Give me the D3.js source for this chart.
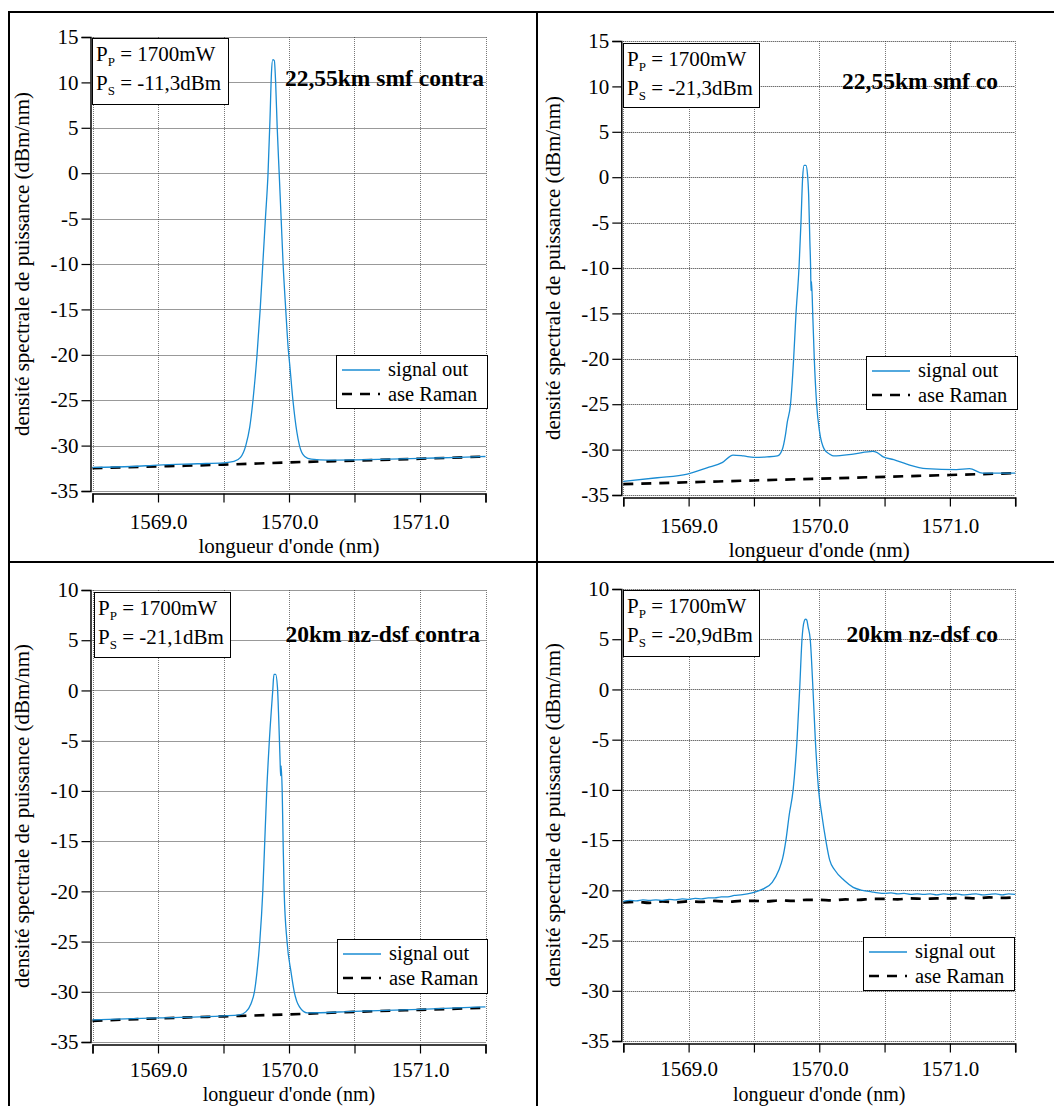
<!DOCTYPE html>
<html>
<head>
<meta charset="utf-8">
<script src="https://cdn.jsdelivr.net/npm/d3@7"></script>
<style>
  body { margin: 0; background: #fff; }
  svg { display: block; font-family: "Liberation Serif", "DejaVu Serif", serif; }
</style>
</head>
<body>
<script>
// ---------------- DATA ----------------
const wlGrid = [1568.5, 1569.0, 1569.5, 1570.0, 1570.5, 1571.0, 1571.5];
const wlLabels = [1569.0, 1570.0, 1571.0];
const yTicksTop = [15, 10, 5, 0, -5, -10, -15, -20, -25, -30, -35];
const yTicksBottom = [10, 5, 0, -5, -10, -15, -20, -25, -30, -35];
const panelTitles = ["22,55km smf contra", "22,55km smf co", "20km nz-dsf contra", "20km nz-dsf co"];
const pumpPower = ["1700mW", "1700mW", "1700mW", "1700mW"];
const signalPower = ["-11,3dBm", "-21,3dBm", "-21,1dBm", "-20,9dBm"];
const seriesNames = ["signal out", "ase Raman"];
const xAxisTitle = "longueur d'onde (nm)";
const yAxisTitle = "densité spectrale de puissance (dBm/nm)";

// [wavelength nm, dBm/nm]
const signal1 = [[1568.5,-32.4],[1568.8,-32.3],[1569.0,-32.15],[1569.3,-32.0],[1569.5,-31.9],[1569.58,-31.75],
  [1569.63,-31.3],[1569.67,-30.0],[1569.70,-28.0],[1569.725,-25.0],[1569.756,-20.0],[1569.78,-15],[1569.80,-10.0],
  [1569.82,-5],[1569.84,0.0],[1569.855,6],[1569.866,11],[1569.876,12.5],[1569.888,12.4],[1569.898,10],[1569.91,5],
  [1569.925,0],[1569.94,-5],[1569.955,-10.0],[1569.975,-15],[1569.995,-19.5],[1570.005,-21],[1570.03,-25.0],
  [1570.06,-28.5],[1570.08,-30.0],[1570.12,-31.2],[1570.17,-31.5],[1570.3,-31.6],[1570.6,-31.55],[1571.0,-31.4],
  [1571.3,-31.3],[1571.5,-31.2]];
const ase1 = [[1568.5,-32.5],[1569.0,-32.3],[1569.5,-32.1],[1570.0,-31.85],[1570.5,-31.65],[1571.0,-31.45],[1571.5,-31.2]];

const signal2 = [[1568.5,-33.5],[1568.76,-33.1],[1568.99,-32.7],[1569.14,-32.0],[1569.26,-31.4],[1569.34,-30.6],
  [1569.42,-30.7],[1569.5,-30.85],[1569.6,-30.8],[1569.68,-30.7],[1569.717,-30.0],[1569.74,-28.5],[1569.755,-27],
  [1569.78,-25],[1569.804,-20],[1569.822,-15],[1569.845,-10],[1569.86,-5],[1569.873,0],[1569.884,1.3],[1569.898,1.3],
  [1569.91,0.3],[1569.919,-2],[1569.928,-7],[1569.934,-10],[1569.937,-12.5],[1569.941,-11.5],[1569.95,-15],
  [1569.962,-20],[1569.98,-25],[1570.002,-28],[1570.04,-30],[1570.08,-30.5],[1570.11,-30.7],[1570.26,-30.5],
  [1570.41,-30.2],[1570.44,-30.3],[1570.49,-30.8],[1570.57,-31.1],[1570.67,-31.6],[1570.82,-32.1],[1571.05,-32.2],
  [1571.15,-32.1],[1571.25,-32.6],[1571.5,-32.6]];
const ase2 = [[1568.5,-33.8],[1569.0,-33.6],[1569.5,-33.4],[1570.0,-33.2],[1570.5,-33.0],[1571.0,-32.8],[1571.5,-32.6]];

const signal3 = [[1568.5,-32.8],[1569.0,-32.6],[1569.5,-32.4],[1569.62,-32.3],[1569.67,-32.0],[1569.71,-31.2],
  [1569.736,-30],[1569.756,-28],[1569.777,-25],[1569.80,-20],[1569.815,-15],[1569.83,-10],[1569.85,-5],
  [1569.876,0],[1569.885,1.6],[1569.898,1.6],[1569.912,0.3],[1569.922,-3],[1569.932,-7],[1569.936,-8.5],
  [1569.94,-7.5],[1569.948,-10],[1569.955,-15],[1569.963,-20],[1569.985,-25],[1570.015,-28],[1570.04,-30],
  [1570.08,-31.5],[1570.14,-32.1],[1570.5,-31.95],[1571.0,-31.75],[1571.5,-31.5]];
const ase3 = [[1568.5,-32.9],[1569.0,-32.65],[1569.5,-32.45],[1570.0,-32.25],[1570.5,-32.0],[1571.0,-31.8],[1571.5,-31.6]];

const signal4 = [[1568.5,-21.1],[1568.55,-21.0],[1568.6,-21.05],[1568.65,-20.95],[1568.7,-21.0],[1568.75,-20.95],
  [1568.8,-21.0],[1568.85,-20.9],[1568.9,-20.95],[1568.95,-20.85],[1569.0,-20.9],[1569.05,-20.8],[1569.1,-20.85],
  [1569.15,-20.75],[1569.2,-20.75],[1569.25,-20.65],[1569.3,-20.65],[1569.35,-20.5],[1569.4,-20.45],[1569.45,-20.35],
  [1569.5,-20.2],[1569.58,-19.8],[1569.64,-19.2],[1569.69,-18.0],[1569.72,-16.8],[1569.745,-15],[1569.77,-12.5],
  [1569.80,-10],[1569.83,-5],[1569.85,0],[1569.868,5],[1569.885,6.8],[1569.895,7.0],[1569.905,6.9],[1569.915,6.2],
  [1569.931,5],[1569.952,0],[1569.97,-5],[1569.995,-10],[1570.02,-12.5],[1570.05,-15],[1570.08,-17.0],
  [1570.12,-18.0],[1570.19,-19.0],[1570.26,-19.7],[1570.33,-20.0],[1570.4,-20.15],[1570.45,-20.25],[1570.5,-20.3],
  [1570.55,-20.25],[1570.6,-20.35],[1570.65,-20.3],[1570.7,-20.4],[1570.75,-20.35],[1570.8,-20.4],[1570.85,-20.35],
  [1570.9,-20.45],[1570.95,-20.35],[1571.0,-20.4],[1571.05,-20.35],[1571.1,-20.45],[1571.15,-20.4],[1571.2,-20.35],
  [1571.25,-20.45],[1571.3,-20.4],[1571.35,-20.35],[1571.4,-20.45],[1571.45,-20.35],[1571.5,-20.4]];
const ase4 = [[1568.5,-21.2],[1568.6,-21.15],[1568.7,-21.25],[1568.8,-21.1],[1568.9,-21.2],[1569.0,-21.1],
  [1569.1,-21.15],[1569.2,-21.05],[1569.3,-21.15],[1569.4,-21.05],[1569.5,-21.05],[1569.6,-21.1],[1569.7,-21.0],
  [1569.8,-21.05],[1569.9,-20.95],[1570.0,-20.95],[1570.1,-21.0],[1570.2,-20.9],[1570.3,-20.95],[1570.4,-20.85],
  [1570.5,-20.85],[1570.6,-20.9],[1570.7,-20.8],[1570.8,-20.85],[1570.9,-20.8],[1571.0,-20.8],[1571.1,-20.75],
  [1571.2,-20.8],[1571.3,-20.7],[1571.4,-20.75],[1571.5,-20.7]];

// ---------------- LAYOUT ----------------
const W = 1054, H = 1106;
const BLUE = "#1a8cd3";
const FONT = 21;
const SERIF = "Liberation Serif, DejaVu Serif, serif";

const panels = [
  { sig: signal1, ase: ase1, yTicks: yTicksTop, yDom: [-35, 15], xr: [92.5, 485.5], yr: [491, 37],
    box: [92, 38, 136, 66], title: [484, 86], leg: [336, 355, 151, 53], yTitleX: 29, pad: 12, xtY: 553, xtF: 21 },
  { sig: signal2, ase: ase2, yTicks: yTicksTop, yDom: [-35, 15], xr: [623.3, 1015.2], yr: [495, 41],
    box: [623, 43, 136, 64], title: [998, 89], leg: [866, 356, 151, 53], yTitleX: 560, pad: 12, xtY: 557, xtF: 21 },
  { sig: signal3, ase: ase3, yTicks: yTicksBottom, yDom: [-35, 10], xr: [92.5, 485.5], yr: [1042, 590],
    box: [94, 592, 136, 65], title: [480, 642], leg: [337, 939, 150, 54], yTitleX: 29, pad: 9, xtY: 1101, xtF: 20 },
  { sig: signal4, ase: ase4, yTicks: yTicksBottom, yDom: [-35, 10], xr: [623.3, 1015.2], yr: [1041, 589],
    box: [623, 590, 136, 66], title: [998, 642], leg: [863, 937, 151, 53], yTitleX: 560, pad: 9, xtY: 1101, xtF: 20 }
];

const svg = d3.select("body").append("svg").attr("width", W).attr("height", H);
svg.append("rect").attr("width", W).attr("height", H).attr("fill", "#fff");

// outer frame
const frame = svg.append("g").attr("stroke", "#000").attr("stroke-width", 2);
frame.append("line").attr("x1", 8).attr("x2", W).attr("y1", 12).attr("y2", 12);
frame.append("line").attr("x1", 8).attr("x2", W).attr("y1", 562).attr("y2", 562);
frame.append("line").attr("x1", 9).attr("x2", 9).attr("y1", 12).attr("y2", H);
frame.append("line").attr("x1", 537).attr("x2", 537).attr("y1", 12).attr("y2", H);

panels.forEach((p, i) => {
  const x = d3.scaleLinear().domain([1568.5, 1571.5]).range(p.xr);
  const y = d3.scaleLinear().domain(p.yDom).range(p.yr);
  const g = svg.append("g").attr("font-family", SERIF);

  // grid
  const grid = g.append("g").attr("stroke-width", 1).attr("stroke-dasharray", "1,1");
  grid.selectAll("line.v").data(wlGrid).join("line").attr("class", "v").attr("stroke", "#777")
    .attr("x1", d => Math.round(x(d)) + 0.5).attr("x2", d => Math.round(x(d)) + 0.5)
    .attr("y1", p.yr[1]).attr("y2", p.yr[0]);
  grid.selectAll("line.h").data(p.yTicks).join("line").attr("class", "h").attr("stroke", "#333")
    .attr("x1", p.xr[0]).attr("x2", p.xr[1])
    .attr("y1", d => Math.round(y(d)) + 0.5).attr("y2", d => Math.round(y(d)) + 0.5);

  // axes
  const yAxis = d3.axisLeft(y).tickValues(p.yTicks).tickSize(9).tickPadding(3).tickFormat(d => String(d));
  const ya = g.append("g").attr("transform", `translate(${p.xr[0] - 2},0)`).call(yAxis);
  const xAxis = d3.axisBottom(x).tickValues(wlGrid).tickSize(9).tickPadding(p.pad)
    .tickFormat(d => wlLabels.includes(d) ? d.toFixed(1) : "");
  const xa = g.append("g").attr("transform", `translate(0,${p.yr[0] + 2.5})`).call(xAxis);
  [ya, xa].forEach(a => {
    a.attr("font-family", SERIF);
    a.select(".domain").attr("stroke", "#000").attr("stroke-width", 1.5);
    a.selectAll(".tick line").attr("stroke", "#000").attr("stroke-width", 1.2);
    a.selectAll("text").attr("font-family", SERIF).attr("font-size", FONT).attr("fill", "#000");
  });

  // axis titles
  g.append("text").attr("x", (p.xr[0] + p.xr[1]) / 2).attr("y", p.xtY)
    .attr("text-anchor", "middle").attr("font-size", p.xtF).text(xAxisTitle);
  g.append("text").attr("transform", `translate(${p.yTitleX},${(p.yr[0] + p.yr[1]) / 2}) rotate(-90)`)
    .attr("text-anchor", "middle").attr("font-size", FONT).text(yAxisTitle);

  // series
  const line = d3.line().x(d => x(d[0])).y(d => y(d[1])).curve(d3.curveMonotoneX);
  g.append("path").datum(p.ase).attr("d", line).attr("fill", "none").attr("stroke", "#000")
    .attr("stroke-width", 2.6).attr("stroke-dasharray", "10,8");
  g.append("path").datum(p.sig).attr("d", line).attr("fill", "none").attr("stroke", BLUE)
    .attr("stroke-width", 1.3);

  // info box
  const [bx, by, bw, bh] = p.box;
  g.append("rect").attr("x", bx + 0.5).attr("y", by + 0.5).attr("width", bw).attr("height", bh)
    .attr("fill", "#fff").attr("stroke", "#000").attr("stroke-width", 1);
  const t1 = g.append("text").attr("x", bx + 4).attr("y", by + 23).attr("font-size", FONT);
  t1.append("tspan").text("P");
  t1.append("tspan").attr("font-size", 13).attr("dy", 5).text("P");
  t1.append("tspan").attr("dy", -5).text(" = " + pumpPower[i]);
  const t2 = g.append("text").attr("x", bx + 4).attr("y", by + 52).attr("font-size", FONT);
  t2.append("tspan").text("P");
  t2.append("tspan").attr("font-size", 13).attr("dy", 5).text("S");
  t2.append("tspan").attr("dy", -5).text(" = " + signalPower[i]);

  // panel title
  g.append("text").attr("x", p.title[0]).attr("y", p.title[1]).attr("text-anchor", "end")
    .attr("font-size", 23.5).attr("font-weight", "bold").text(panelTitles[i]);

  // legend
  const [lx, ly, lw, lh] = p.leg;
  g.append("rect").attr("x", lx + 0.5).attr("y", ly + 0.5).attr("width", lw).attr("height", lh)
    .attr("fill", "#fff").attr("stroke", "#000").attr("stroke-width", 1);
  g.append("line").attr("x1", lx + 6).attr("x2", lx + 44).attr("y1", ly + 15).attr("y2", ly + 15)
    .attr("stroke", BLUE).attr("stroke-width", 1.3);
  g.append("line").attr("x1", lx + 6).attr("x2", lx + 44).attr("y1", ly + 39).attr("y2", ly + 39)
    .attr("stroke", "#000").attr("stroke-width", 2.6).attr("stroke-dasharray", "10,8");
  g.append("text").attr("x", lx + 52).attr("y", ly + 21).attr("font-size", 20.5).text(seriesNames[0]);
  g.append("text").attr("x", lx + 52).attr("y", ly + 46).attr("font-size", 20.5).text(seriesNames[1]);
});
</script>
</body>
</html>
